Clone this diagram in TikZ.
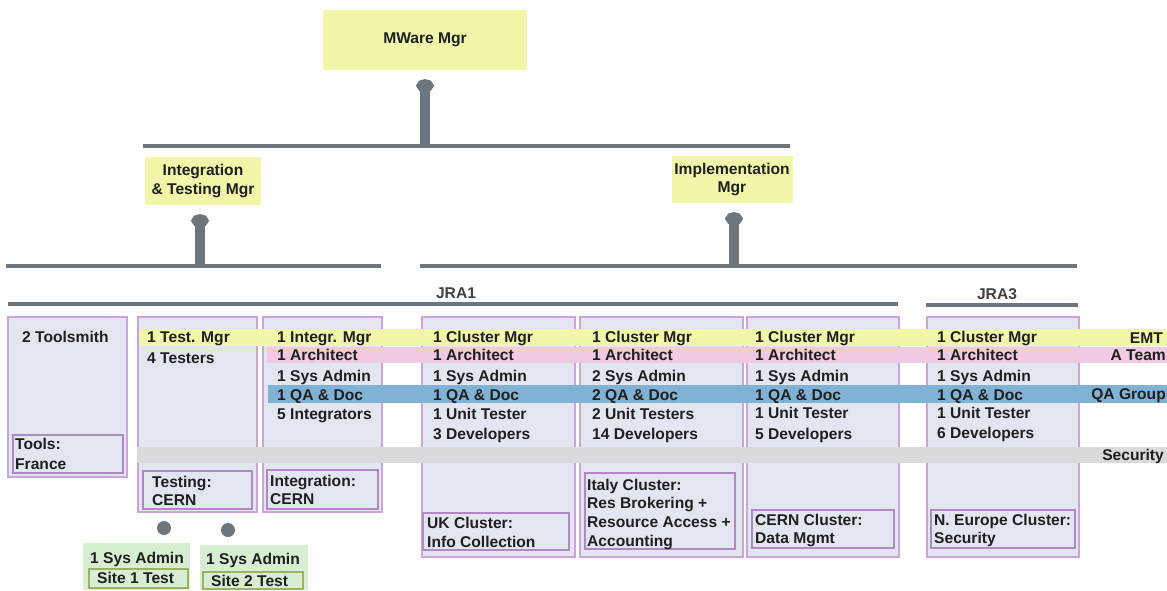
\documentclass[tikz,border=0pt]{standalone}
\usepackage{fontspec}
\setmainfont{Liberation Sans}
\usetikzlibrary{arrows.meta}
\definecolor{mgrfill}{HTML}{F1F6A9}
\definecolor{colfill}{HTML}{E1E6F1}
\definecolor{colline}{HTML}{CBA4D9}
\definecolor{innerline}{HTML}{B386C4}
\definecolor{pinkband}{HTML}{F0C9E3}
\definecolor{blueband}{HTML}{80B2D6}
\definecolor{grayband}{HTML}{DADADA}
\definecolor{greenfill}{HTML}{D8EED2}
\definecolor{oliveline}{HTML}{9DB261}
\definecolor{bargray}{HTML}{6C767C}
\newcommand\rowtxt[4]{\node[txt,anchor=base west] (#1) at (#2,#3+5.5) {#4};}
\begin{document}
\begin{tikzpicture}[x=1pt,y=-1pt,
  txt/.style={font=\bfseries\fontsize{15.6}{18}\selectfont, inner sep=0pt, text=black!88},
  mgrbox/.style={fill=mgrfill, draw=none, inner sep=0pt, align=center,
    font=\bfseries\fontsize{15.6}{18.5}\selectfont, text=black!88},
  colbox/.style={fill=colfill, draw=colline, line width=2.5pt},
  innerbox/.style={fill=colfill, draw=innerline, line width=2pt},
  hbar/.style={draw=bargray, line width=4.5pt},
  uparrow/.style={draw=bargray, line width=10pt, -{Ellipse[length=13pt,width=17pt]}, shorten >=9pt},
  dot/.style={circle, fill=bargray, minimum size=14pt, inner sep=0pt},
  siteouter/.style={fill=greenfill, draw=none},
  siteinner/.style={fill=greenfill, draw=oliveline, line width=2pt}]
\useasboundingbox (0,0) rectangle (1167,590);
\fill[white] (0,0) rectangle (1167,590);

% management boxes
\node[mgrbox, minimum width=204pt, minimum height=60pt] (mware) at (425,40) {MWare Mgr};
\node[mgrbox, minimum width=116pt, minimum height=48pt] (itmgr) at (203,181) {Integration\\\& Testing Mgr};
\node[mgrbox, minimum width=121pt, minimum height=47pt] (impmgr) at (732,179.5) {Implementation\\Mgr};

% reporting bars
\coordinate (topL) at (143,146);
\coordinate (topR) at (790,146);
\draw[hbar] (topL) -- (topR);
\coordinate (itL) at (6,266);
\coordinate (itR) at (381,266);
\draw[hbar] (itL) -- (itR);
\coordinate (imL) at (420,266);
\coordinate (imR) at (1077,266);
\draw[hbar] (imL) -- (imR);
\coordinate (j1L) at (8,304);
\coordinate (j1R) at (898,304);
\draw[hbar] (j1L) -- (j1R);
\coordinate (j3L) at (926,305);
\coordinate (j3R) at (1078,305);
\draw[hbar] (j3L) -- (j3R);

% arrows up to the managers
\coordinate (a0) at (425,146);
\coordinate (a1) at (200,264);
\coordinate (a2) at (734,264);
\draw[uparrow] (a0) -- (a0 |- mware.south);
\draw[uparrow] (a1) -- (a1 |- itmgr.south);
\draw[uparrow] (a2) -- (a2 |- impmgr.south);

% project labels
\node[txt, text=black!75] (jra1) at (456,293) {JRA1};
\node[txt, text=black!75] (jra3) at (997,294) {JRA3};

% team columns
\draw[colbox] (8,317) rectangle (127,477);
\draw[colbox] (138,317) rectangle (257,512);
\draw[colbox] (263,317) rectangle (382,512);
\draw[colbox] (422,317) rectangle (575,557);
\draw[colbox] (580,317) rectangle (743,557);
\draw[colbox] (747,317) rectangle (899,557);
\draw[colbox] (927,317) rectangle (1079,557);

% cross-cutting groups
\fill[mgrfill] (140,329) rectangle (1167,346);
\fill[pinkband] (267,347) rectangle (1167,363);
\fill[blueband] (268,385) rectangle (1167,403);
\fill[grayband] (137,447) rectangle (1167,463);

\node[txt, anchor=base east] (emt) at (1163,343.5) {EMT};
\node[txt, anchor=base east] (ateam) at (1166,360.5) {A Team};
\node[txt, anchor=base east] (qagrp) at (1166,399.5) {QA Group};
\node[txt, anchor=base east] (secgrp) at (1164,460.5) {Security};

% site boxes
\draw[innerbox] (13,435) rectangle (123,473);
\draw[innerbox] (143,471) rectangle (252,509);
\draw[innerbox] (267,470) rectangle (378,509);
\draw[innerbox] (423,513) rectangle (569,550);
\draw[innerbox] (585,473) rectangle (735,549);
\draw[innerbox] (752,510) rectangle (894,548);
\draw[innerbox] (931,510) rectangle (1075,548);

% column 1
\rowtxt{t1a}{22}{337}{2 Toolsmith}
\rowtxt{s1a}{15}{444}{Tools:}
\rowtxt{s1b}{15}{464}{France}
% column 2
\rowtxt{t2a}{147}{337}{1 Test. Mgr}
\rowtxt{t2b}{147}{358}{4 Testers}
\rowtxt{s2a}{152}{482}{Testing:}
\rowtxt{s2b}{152}{500}{CERN}
% column 3
\rowtxt{t3a}{277}{337}{1 Integr. Mgr}
\rowtxt{t3b}{277}{355}{1 Architect}
\rowtxt{t3c}{277}{376}{1 Sys Admin}
\rowtxt{t3d}{277}{395}{1 QA \& Doc}
\rowtxt{t3e}{277}{414}{5 Integrators}
\rowtxt{s3a}{270}{481}{Integration:}
\rowtxt{s3b}{270}{499}{CERN}
% column 4
\rowtxt{t4a}{433}{337}{1 Cluster Mgr}
\rowtxt{t4b}{433}{355}{1 Architect}
\rowtxt{t4c}{433}{376}{1 Sys Admin}
\rowtxt{t4d}{433}{395}{1 QA \& Doc}
\rowtxt{t4e}{433}{414}{1 Unit Tester}
\rowtxt{t4f}{433}{434}{3 Developers}
\rowtxt{s4a}{427}{523}{UK Cluster:}
\rowtxt{s4b}{427}{542}{Info Collection}
% column 5
\rowtxt{t5a}{592}{337}{1 Cluster Mgr}
\rowtxt{t5b}{592}{355}{1 Architect}
\rowtxt{t5c}{592}{376}{2 Sys Admin}
\rowtxt{t5d}{592}{395}{2 QA \& Doc}
\rowtxt{t5e}{592}{414}{2 Unit Testers}
\rowtxt{t5f}{592}{434}{14 Developers}
\rowtxt{s5a}{587}{485}{Italy Cluster:}
\rowtxt{s5b}{587}{503}{Res Brokering +}
\rowtxt{s5c}{587}{522}{Resource Access +}
\rowtxt{s5d}{587}{541}{Accounting}
% column 6
\rowtxt{t6a}{755}{337}{1 Cluster Mgr}
\rowtxt{t6b}{755}{355}{1 Architect}
\rowtxt{t6c}{755}{376}{1 Sys Admin}
\rowtxt{t6d}{755}{395}{1 QA \& Doc}
\rowtxt{t6e}{755}{413}{1 Unit Tester}
\rowtxt{t6f}{755}{434}{5 Developers}
\rowtxt{s6a}{755}{520}{CERN Cluster:}
\rowtxt{s6b}{755}{538}{Data Mgmt}
% column 7
\rowtxt{t7a}{937}{337}{1 Cluster Mgr}
\rowtxt{t7b}{937}{355}{1 Architect}
\rowtxt{t7c}{937}{376}{1 Sys Admin}
\rowtxt{t7d}{937}{395}{1 QA \& Doc}
\rowtxt{t7e}{937}{413}{1 Unit Tester}
\rowtxt{t7f}{937}{433}{6 Developers}
\rowtxt{s7a}{934}{520}{N. Europe Cluster:}
\rowtxt{s7b}{934}{538}{Security}

% test sites
\node[dot] (d1) at (164,528) {};
\node[dot] (d2) at (228,530) {};
\fill[siteouter] (83,543) rectangle (190,590);
\fill[siteouter] (200,545) rectangle (308,590);
\draw[siteinner] (89,569) rectangle (188,588);
\draw[siteinner] (203,572) rectangle (303,589);
\rowtxt{ts1a}{90}{558}{1 Sys Admin}
\rowtxt{ts1b}{97}{578}{Site 1 Test}
\rowtxt{ts2a}{206}{559}{1 Sys Admin}
\rowtxt{ts2b}{211}{581}{Site 2 Test}
\end{tikzpicture}
\end{document}
